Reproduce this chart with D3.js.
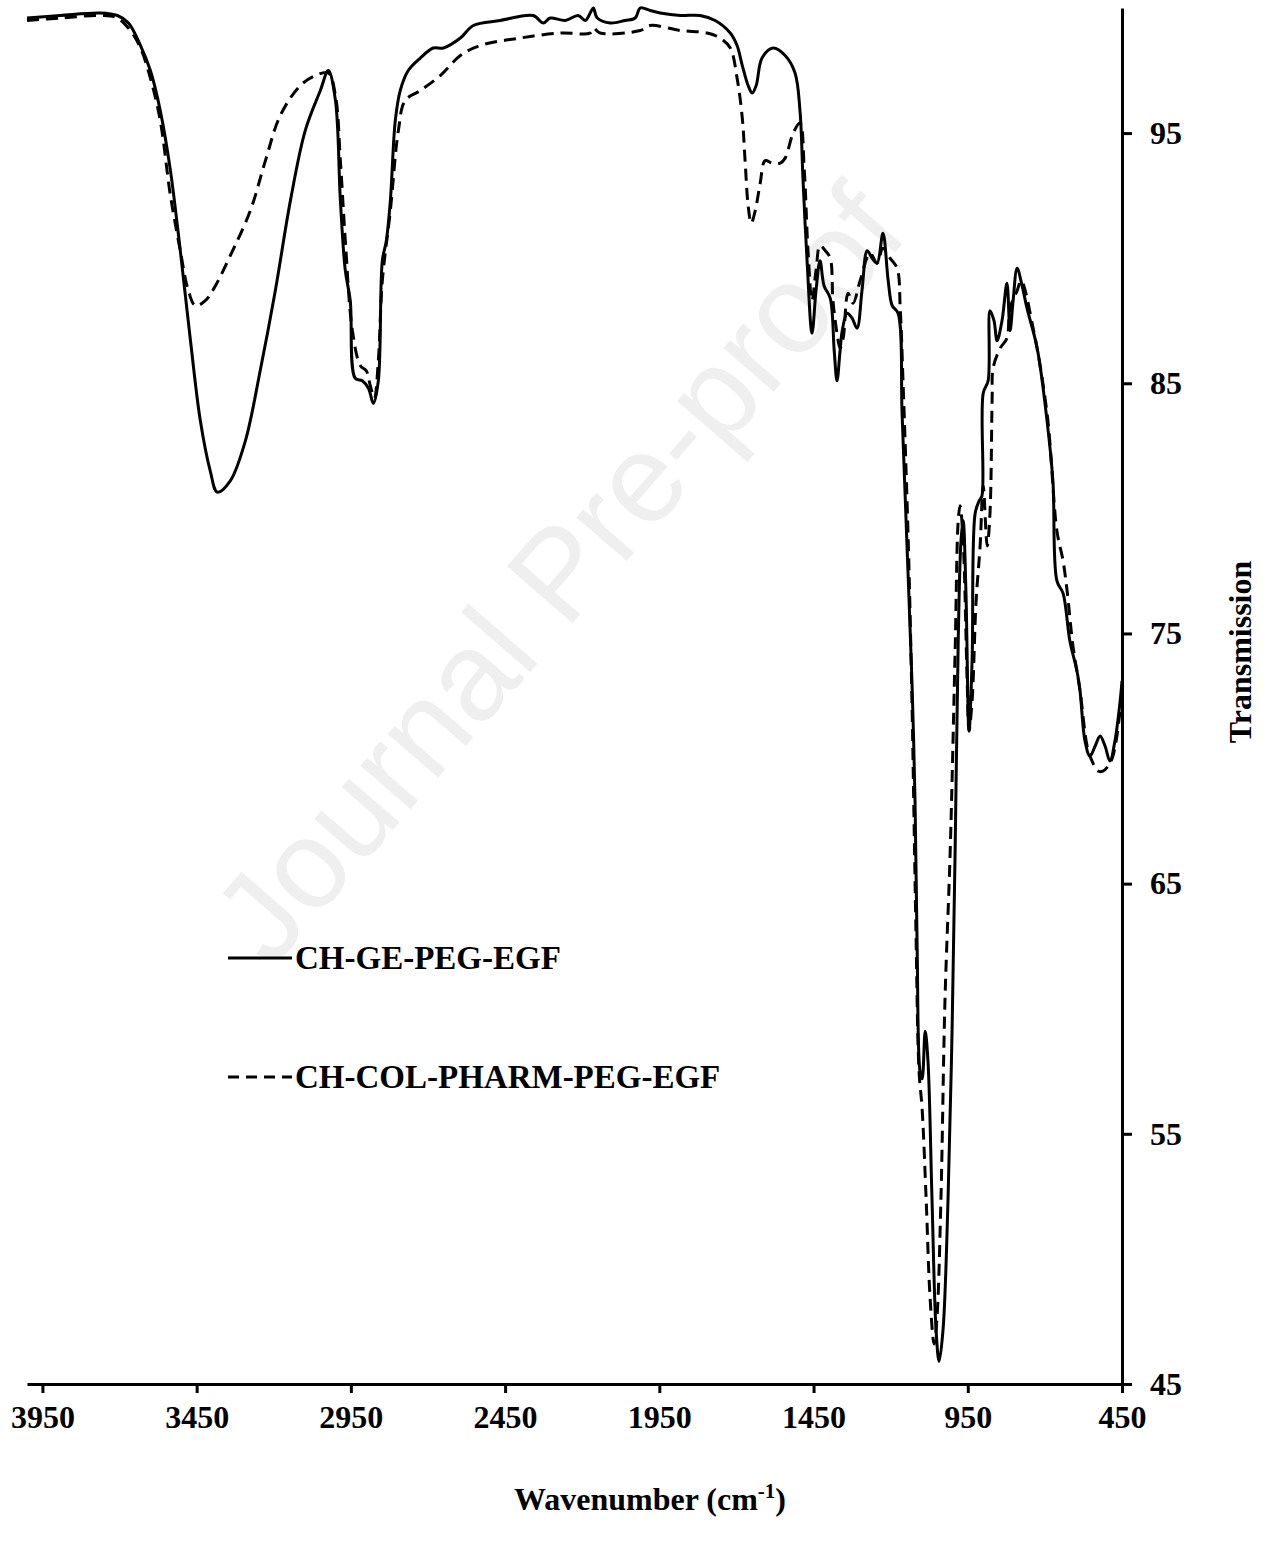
<!DOCTYPE html>
<html>
<head>
<meta charset="utf-8">
<script src="https://cdn.jsdelivr.net/npm/d3@7"></script>
<style>
  html, body { margin: 0; padding: 0; background: #fff; }
  svg text { font-family: "Liberation Serif", "Times New Roman", serif; font-weight: bold; fill: #000; }
</style>
</head>
<body>
<svg id="chart" width="1272" height="1548"></svg>
<script>
// FTIR spectra: wavenumber (cm-1) and % transmission
const seriesNames = ["CH-GE-PEG-EGF", "CH-COL-PHARM-PEG-EGF"];

const geWn = [4000,3892,3762,3707,3671,3632,3600,3568,3535,3503,3470,3438,3406,3383,3341,3292,3244,3195,3146,3098,3049,3023,3000,2984,2968,2952,2936,2913,2893,2877,2861,2848,2835,2822,2806,2790,2764,2725,2683,2650,2595,2553,2466,2359,2326,2304,2255,2213,2190,2174,2164,2151,2109,2061,2028,2012,1980,1947,1882,1818,1769,1720,1698,1681,1662,1649,1636,1617,1581,1542,1510,1494,1484,1471,1455,1442,1429,1416,1396,1383,1374,1364,1357,1341,1325,1309,1293,1276,1260,1244,1225,1208,1195,1176,1163,1147,1131,1121,1114,1105,1098,1088,1079,1066,1053,1043,1030,1014,1001,991,981,972,965,956,946,936,926,913,904,900,884,878,865,855,839,823,813,803,790,774,758,725,693,674,661,641,619,596,586,570,554,537,521,505,489,473,456,450];
const geT  = [99.6,99.7,99.8,99.7,99.4,98.5,97.5,95.9,93.5,90.3,86.7,83.5,81.5,80.65,81.1,82.7,85.5,88.7,92.3,95.1,96.7,97.5,96.3,92.3,89.5,88.3,85.2,85.1,84.8,84.2,85.1,89.9,90.7,92.3,95.5,96.7,97.5,98.0,98.4,98.4,98.8,99.3,99.5,99.7,99.4,99.6,99.5,99.7,99.5,99.8,100.0,99.6,99.4,99.5,99.6,100.0,99.9,99.8,99.7,99.7,99.5,99.0,98.5,97.7,96.9,96.6,96.9,98.0,98.4,98.1,97.4,95.9,93.1,89.9,87.0,88.7,89.9,88.9,88.4,86.3,85.1,86.3,87.1,87.8,87.6,87.2,88.7,90.3,90.0,89.8,91.0,89.1,88.1,87.8,83.8,78.5,73.1,68.3,62.3,57.5,57.2,59.1,57.9,52.4,47.2,45.9,47.2,52.4,59.1,66.3,74.7,78.7,79.5,76.7,71.1,73.9,79.8,80.3,80.5,84.6,85.1,87.9,87.5,86.7,87.5,89.0,87.1,88.3,89.6,88.9,88.0,86.4,83.5,81.1,77.1,76.6,74.7,73.5,72.7,70.7,70.1,70.5,70.9,70.5,69.9,70.7,72.3,73.1];

const colWn = [4000,3892,3762,3707,3665,3632,3600,3568,3535,3503,3477,3454,3422,3389,3341,3276,3227,3179,3114,3065,3023,3000,2984,2968,2945,2919,2900,2887,2874,2861,2848,2822,2796,2774,2725,2660,2595,2531,2401,2271,2174,2164,2142,2012,1980,1882,1795,1753,1720,1698,1681,1672,1662,1652,1639,1623,1607,1584,1558,1542,1516,1494,1480,1468,1455,1442,1429,1412,1396,1387,1374,1364,1354,1338,1322,1299,1267,1244,1225,1202,1179,1169,1160,1143,1131,1118,1108,1098,1085,1072,1059,1050,1037,1024,1007,991,981,975,965,952,946,936,923,910,900,887,878,871,868,845,823,813,790,777,738,693,661,641,628,609,586,563,547,528,512,495,482,469,456,450];
const colT  = [99.5,99.6,99.7,99.6,99.1,98.4,97.2,95.5,92.5,90.3,88.7,88.1,88.3,88.9,90.1,91.9,93.9,95.7,96.9,97.3,97.4,96.5,93.9,90.7,87.1,85.7,85.5,84.9,84.4,85.9,89.1,91.9,95.1,96.3,96.7,97.3,98.1,98.5,98.8,99.0,99.0,99.2,99.0,99.1,99.3,99.1,99.0,98.8,98.4,97.2,95.6,93.9,92.1,91.4,91.9,93.0,93.9,93.8,93.8,94.0,95.0,95.4,93.5,90.3,88.3,89.5,90.5,90.3,90.0,88.3,87.0,86.4,86.8,88.6,88.2,89.1,90.2,89.8,90.4,90.0,89.6,88.0,85.1,78.7,72.3,63.1,57.5,56.0,52.4,48.4,46.6,47.6,52.4,60.3,66.3,74.3,79.5,80.1,78.7,73.1,71.1,72.3,76.3,78.5,80.9,78.5,79.8,84.4,85.6,86.4,86.8,88.0,88.7,89.1,87.2,83.8,79.1,77.9,76.7,74.5,72.7,70.5,69.9,69.5,69.5,69.7,70.0,70.7,71.9,72.3];

const xTickValues = [3950, 3450, 2950, 2450, 1950, 1450, 950, 450];
const yTickValues = [45, 55, 65, 75, 85, 95];

const svg = d3.select("#chart");

const x = d3.scaleLinear().domain([4000, 450]).range([27, 1122]);
const y = d3.scaleLinear().domain([45, 100]).range([1384, 8]);

// Watermark behind the plot
svg.append("text")
  .attr("transform", "translate(566,580) rotate(-49)")
  .attr("text-anchor", "middle")
  .attr("dominant-baseline", "middle")
  .style("font-family", "'Liberation Sans', Arial, sans-serif")
  .style("font-weight", "normal")
  .style("font-size", "126px")
  .style("fill", "#efefef")
  .text("Journal Pre-proof");

// Spectra
const geData = geWn.map((w, i) => ({ w, t: geT[i] }));
const colData = colWn.map((w, i) => ({ w, t: colT[i] }));

const line = d3.line()
  .x(d => x(d.w))
  .y(d => y(d.t))
  .curve(d3.curveCatmullRom.alpha(0.5));

svg.append("path")
  .datum(colData)
  .attr("d", line)
  .attr("fill", "none")
  .attr("stroke", "#000")
  .attr("stroke-width", 3)
  .attr("stroke-dasharray", "12,7");

svg.append("path")
  .datum(geData)
  .attr("d", line)
  .attr("fill", "none")
  .attr("stroke", "#000")
  .attr("stroke-width", 3)
  .attr("stroke-linejoin", "round");

// Axes
const fmt = d3.format("d");
const xAxis = d3.axisBottom(x).tickValues(xTickValues).tickFormat(fmt).tickSize(9).tickSizeOuter(0).tickPadding(12);
const gx = svg.append("g").attr("transform", "translate(0,1384)").call(xAxis);
gx.select(".domain").attr("stroke-width", 3);
gx.selectAll(".tick line").attr("stroke-width", 3);
gx.selectAll(".tick text").style("font-size", "32px").style("font-family", "'Liberation Serif', serif").style("font-weight", "bold");

const yAxis = d3.axisRight(y).tickValues(yTickValues).tickFormat(fmt).tickSize(10).tickSizeOuter(0).tickPadding(18);
const gy = svg.append("g").attr("transform", "translate(1122,0)").call(yAxis);
gy.select(".domain").attr("stroke-width", 3);
gy.selectAll(".tick line").attr("stroke-width", 3);
gy.selectAll(".tick text").style("font-size", "32px").style("font-family", "'Liberation Serif', serif").style("font-weight", "bold");

// Axis titles
const xt = svg.append("text")
  .attr("x", 650).attr("y", 1510)
  .attr("text-anchor", "middle")
  .style("font-size", "32px");
xt.append("tspan").text("Wavenumber (cm");
xt.append("tspan").attr("dy", -12).style("font-size", "21px").text("-1");
xt.append("tspan").attr("dy", 12).text(")");

svg.append("text")
  .attr("transform", "translate(1251,652) rotate(-90)")
  .attr("text-anchor", "middle")
  .style("font-size", "32px")
  .text("Transmission");

// Legend
const legend = [
  { name: seriesNames[0], y: 958, dash: null },
  { name: seriesNames[1], y: 1077, dash: "11,7" }
];
legend.forEach(d => {
  svg.append("line")
    .attr("x1", 228).attr("x2", 292)
    .attr("y1", d.y).attr("y2", d.y)
    .attr("stroke", "#000").attr("stroke-width", 3)
    .attr("stroke-dasharray", d.dash);
  svg.append("text")
    .attr("x", 295).attr("y", d.y + 11)
    .style("font-size", "33px")
    .text(d.name);
});
</script>
</body>
</html>
